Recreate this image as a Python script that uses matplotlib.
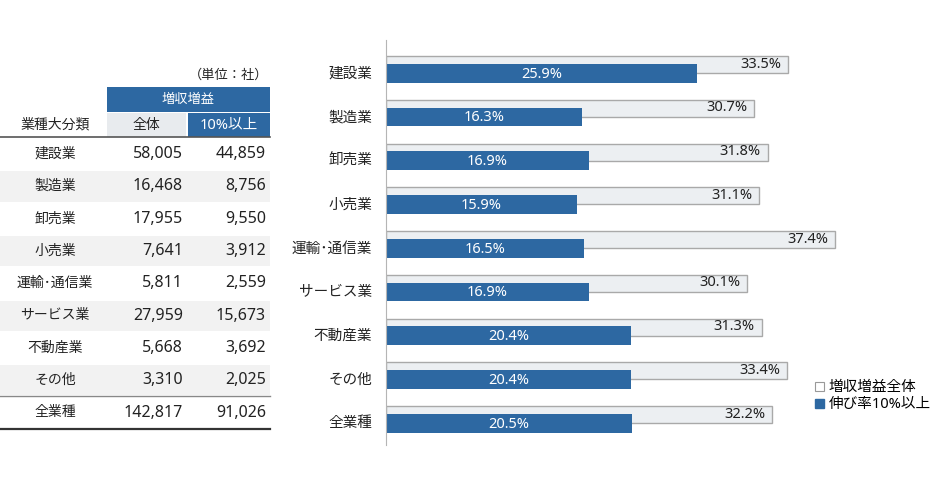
import numpy as np
import matplotlib.pyplot as plt
from matplotlib.patches import Patch, Rectangle

plt.rcParams['font.family'] = ['Noto Sans', 'Noto Sans CJK JP', 'DejaVu Sans']

# data
industries = ['建設業', '製造業', '卸売業', '小売業', '運輸･通信業',
              'サービス業', '不動産業', 'その他', '全業種']
count_all = [58005, 16468, 17955, 7641, 5811, 27959, 5668, 3310, 142817]
count_10 = [44859, 8756, 9550, 3912, 2559, 15673, 3692, 2025, 91026]
share_all = [33.5, 30.7, 31.8, 31.1, 37.4, 30.1, 31.3, 33.4, 32.2]
share_10 = [25.9, 16.3, 16.9, 15.9, 16.5, 16.9, 20.4, 20.4, 20.5]

blue = '#2d68a2'
light = '#eceff2'
W, H = 940, 492

fig = plt.figure(figsize=(W / 100, H / 100), dpi=100)

# ---- table drawn in pixel coordinates
tab = fig.add_axes([0, 0, 1, 1])
tab.set_xlim(0, W)
tab.set_ylim(H, 0)
tab.axis('off')

tab.text(268, 75, '（単位：社）', ha='right', va='center', fontsize=9.5, color='#222')
tab.add_patch(Rectangle((107, 87), 163, 25, color=blue, lw=0))
tab.text(188, 99.5, '増収増益', ha='center', va='center', fontsize=9.5, color='white')
tab.add_patch(Rectangle((107, 113), 79, 24, color='#e8ebee', lw=0))
tab.add_patch(Rectangle((188, 113), 82, 24, color=blue, lw=0))
tab.text(146, 125, '全体', ha='center', va='center', fontsize=10, color='#222')
tab.text(229, 125, '10%以上', ha='center', va='center', fontsize=10.5, color='white')
tab.text(55, 125, '業種大分類', ha='center', va='center', fontsize=10, color='#222')
tab.plot([0, 270], [137, 137], color='#555', lw=1.2)

row_h = 32.3
top = 138
for i, name in enumerate(industries):
    y0 = top + i * row_h
    yc = y0 + row_h / 2
    if i % 2 == 1:
        tab.add_patch(Rectangle((0, y0 + 1), 270, row_h - 2, color='#f2f2f2', lw=0))
    tab.text(55, yc, name, ha='center', va='center', fontsize=10, color='#222')
    tab.text(183, yc, f'{count_all[i]:,}', ha='right', va='center', fontsize=11.5, color='#222')
    tab.text(266, yc, f'{count_10[i]:,}', ha='right', va='center', fontsize=11.5, color='#222')
y_tot = top + (len(industries) - 1) * row_h
tab.plot([0, 270], [y_tot, y_tot], color='#888', lw=1)
tab.plot([0, 270], [y_tot + row_h, y_tot + row_h], color='#333', lw=1.6)

# ---- bar chart
ax = fig.add_axes([386 / W, 1 - 445 / H, 540 / W, 405 / H])
y = np.arange(len(industries))
ax.barh(y - 0.17, share_all, height=0.39, color=light, edgecolor='#a9a9a9', lw=1)
ax.barh(y + 0.03, share_10, height=0.43, color=blue, lw=0)
for i in range(len(industries)):
    ax.text(share_all[i] - 0.55, y[i] - 0.18, f'{share_all[i]:.1f}%', ha='right',
            va='center', fontsize=10.5, color='#222')
    ax.text(share_10[i] / 2, y[i] + 0.05, f'{share_10[i]:.1f}%', ha='center',
            va='center', fontsize=10.5, color='white')

ax.set_xlim(0, 45)
ax.set_ylim(8.526, -0.731)
ax.set_yticks(y)
ax.set_yticklabels(industries, fontsize=10.5, color='#222')
ax.tick_params(axis='y', length=0, pad=10)
ax.set_xticks([])
for s in ['top', 'right', 'bottom']:
    ax.spines[s].set_visible(False)
ax.spines['left'].set_color('#b5b5b5')
ax.patch.set_alpha(0)

handles = [Patch(facecolor='white', edgecolor='#999', lw=0.8, label='増収増益全体'),
           Patch(facecolor=blue, edgecolor=blue, label='伸び率10%以上')]
fig.legend(handles=handles, loc='upper left', bbox_to_anchor=(808 / W, 1 - 373 / H),
           frameon=False, fontsize=10.5, handlelength=0.6, handleheight=0.6,
           handletextpad=0.3, labelspacing=0.15, borderpad=0)

fig.savefig('out.png', dpi=100)
